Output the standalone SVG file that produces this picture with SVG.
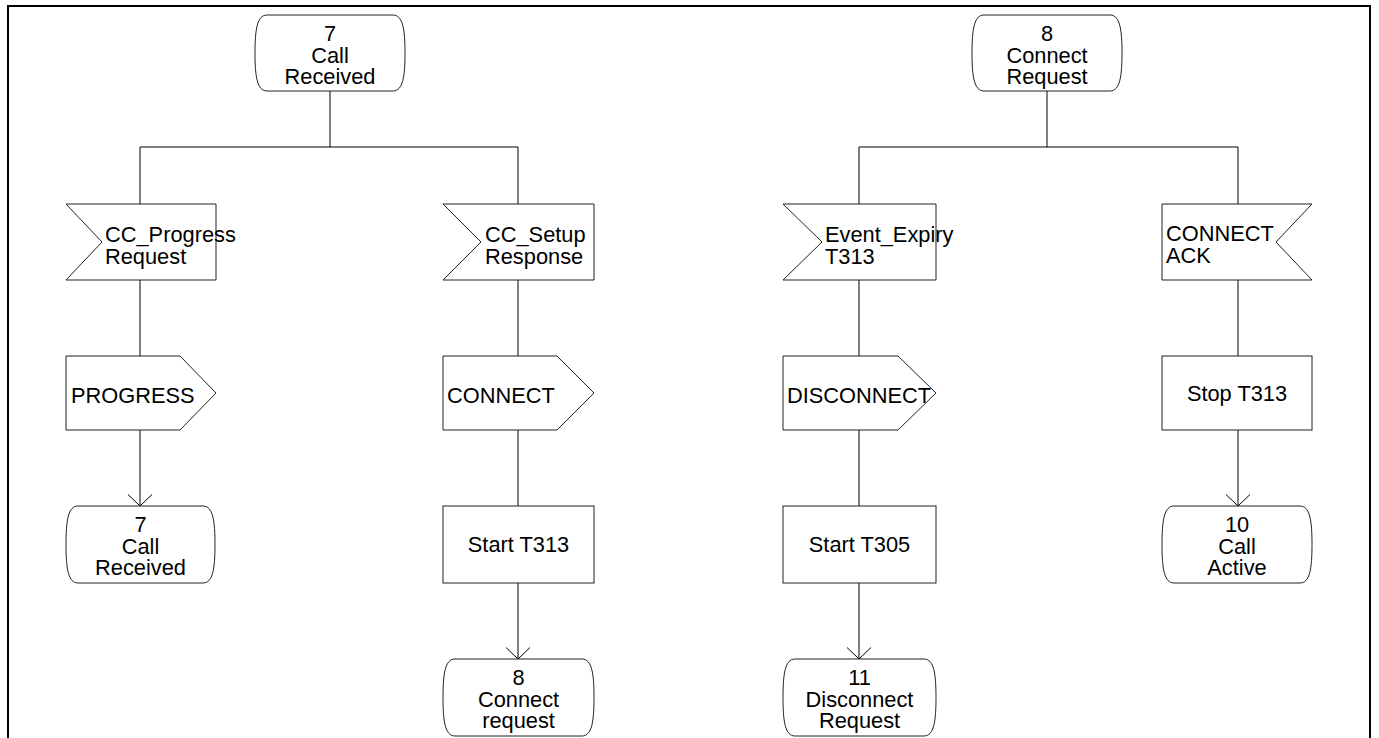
<svg xmlns="http://www.w3.org/2000/svg" width="1379" height="738" viewBox="0 0 1379 738">
<style>
.s{fill:#fff;stroke:#222;stroke-width:1}
.c{fill:none;stroke:#000;stroke-width:1}
text{font-family:"Liberation Sans",Arial,sans-serif;font-size:21.8px;fill:#000}
.m{text-anchor:middle}
</style>
<defs>
<marker id="ah" markerUnits="userSpaceOnUse" viewBox="0 0 12 26" refX="11.5" refY="12.5" markerWidth="12" markerHeight="26" orient="auto" overflow="visible">
<path d="M0,0.5 L11.5,12.5 L0,24.5" fill="none" stroke="#000" stroke-width="1"/>
</marker>
</defs>
<rect x="0" y="0" width="1379" height="738" fill="#fff"/>
<path d="M8,745 V6 H1370 V745" fill="none" stroke="#000" stroke-width="2"/>
<g id="connectors">
<path class="c" d="M330,91 V147 M140,147 H518 M140,147 V204 M518,147 V204"/>
<path class="c" d="M1047,91 V147 M859,147 H1238 M859,147 V204 M1238,147 V204"/>
<path class="c" d="M140,280 V356 M518,280 V356 M859,280 V356 M1238,280 V356"/>
<path class="c" d="M518,430 V506 M859,430 V506"/>
<path class="c" d="M140,430 V506" marker-end="url(#ah)"/>
<path class="c" d="M1238,430 V506" marker-end="url(#ah)"/>
<path class="c" d="M518,583 V659" marker-end="url(#ah)"/>
<path class="c" d="M859,583 V659" marker-end="url(#ah)"/>
</g>
<g id="state7top">
<path class="s" d="M267,15 H393 C403,15 405,30 405,53 C405,76 403,91 393,91 H267 C257,91 255,76 255,53 C255,30 257,15 267,15 Z"/>
<text class="m" x="330" y="41">7</text>
<text class="m" x="330" y="62.5">Call</text>
<text class="m" x="330" y="84">Received</text>
</g>
<g id="state8top">
<path class="s" d="M984,15 H1110 C1120,15 1122,30 1122,53 C1122,76 1120,91 1110,91 H984 C974,91 972,76 972,53 C972,30 974,15 984,15 Z"/>
<text class="m" x="1047" y="41">8</text>
<text class="m" x="1047" y="62.5">Connect</text>
<text class="m" x="1047" y="84">Request</text>
</g>
<g id="in_progress">
<path class="s" d="M66,204 H216 V280 H66 L102,242 Z"/>
<text x="105" y="242">CC_Progress</text>
<text x="105" y="264">Request</text>
</g>
<g id="in_setup">
<path class="s" d="M443,204 H594 V280 H443 L481,242 Z"/>
<text x="485" y="242">CC_Setup</text>
<text x="485" y="264">Response</text>
</g>
<g id="in_expiry">
<path class="s" d="M783,204 H936 V280 H783 L822,242 Z"/>
<text x="825" y="242">Event_Expiry</text>
<text x="825" y="264">T313</text>
</g>
<g id="in_connectack">
<path class="s" d="M1162,204 H1312 L1276,242 L1312,280 H1162 Z"/>
<text x="1166" y="241">CONNECT</text>
<text x="1166" y="263">ACK</text>
</g>
<g id="out_progress">
<path class="s" d="M66,356 H180 L216,393 L180,430 H66 Z"/>
<text x="71" y="403">PROGRESS</text>
</g>
<g id="out_connect">
<path class="s" d="M443,356 H557 L594,393 L557,430 H443 Z"/>
<text x="447" y="403">CONNECT</text>
</g>
<g id="out_disconnect">
<path class="s" d="M783,356 H898 L936,393 L898,430 H783 Z"/>
<text x="787" y="403">DISCONNECT</text>
</g>
<g id="task_stopT313">
<rect class="s" x="1162" y="356" width="150" height="74"/>
<text class="m" x="1237" y="401">Stop T313</text>
</g>
<g id="task_startT313">
<rect class="s" x="443" y="506" width="151" height="77"/>
<text class="m" x="518.5" y="552">Start T313</text>
</g>
<g id="task_startT305">
<rect class="s" x="783" y="506" width="153" height="77"/>
<text class="m" x="859.5" y="552">Start T305</text>
</g>
<g id="state7bottom">
<path class="s" d="M78,506 H203 C213,506 215,521 215,544.5 C215,568 213,583 203,583 H78 C68,583 66,568 66,544.5 C66,521 68,506 78,506 Z"/>
<text class="m" x="140.5" y="532">7</text>
<text class="m" x="140.5" y="553.5">Call</text>
<text class="m" x="140.5" y="575">Received</text>
</g>
<g id="state10">
<path class="s" d="M1174,506 H1300 C1310,506 1312,521 1312,544.5 C1312,568 1310,583 1300,583 H1174 C1164,583 1162,568 1162,544.5 C1162,521 1164,506 1174,506 Z"/>
<text class="m" x="1237" y="532">10</text>
<text class="m" x="1237" y="553.5">Call</text>
<text class="m" x="1237" y="575">Active</text>
</g>
<g id="state8bottom">
<path class="s" d="M455,659 H582 C592,659 594,674 594,697.5 C594,721 592,736 582,736 H455 C445,736 443,721 443,697.5 C443,674 445,659 455,659 Z"/>
<text class="m" x="518.5" y="685">8</text>
<text class="m" x="518.5" y="706.5">Connect</text>
<text class="m" x="518.5" y="728">request</text>
</g>
<g id="state11">
<path class="s" d="M795,659 H924 C934,659 936,674 936,697.5 C936,721 934,736 924,736 H795 C785,736 783,721 783,697.5 C783,674 785,659 795,659 Z"/>
<text class="m" x="859.5" y="685">11</text>
<text class="m" x="859.5" y="706.5">Disconnect</text>
<text class="m" x="859.5" y="728">Request</text>
</g>
</svg>
